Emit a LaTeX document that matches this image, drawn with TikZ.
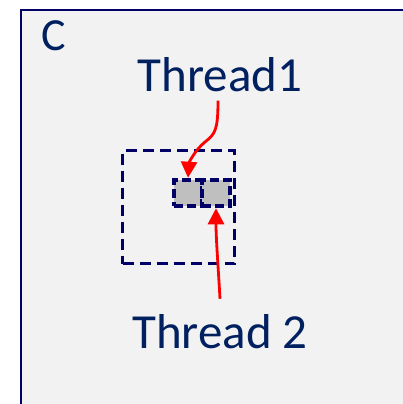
\documentclass[tikz,border=0pt]{standalone}
\usepackage{fontspec}
\setmainfont{Carlito}
\usetikzlibrary{arrows.meta,positioning}
\definecolor{textnavy}{HTML}{002060}
\definecolor{framenavy}{HTML}{000066}
\definecolor{panel}{HTML}{F2F2F2}
\definecolor{cellgray}{HTML}{BFBFBF}

\begin{document}
\begin{tikzpicture}[x=1pt,y=-1pt,
tlabel/.style={text=textnavy,font=\fontsize{49}{50}\selectfont,inner sep=0pt,anchor=base},
cell/.style={draw=framenavy,fill=cellgray,line width=4.5pt,dash pattern=on 9pt off 4pt,minimum width=28pt,minimum height=26pt,inner sep=0pt},
region/.style={draw=framenavy,line width=2.8pt,dash pattern=on 11pt off 6pt,minimum width=112pt,minimum height=113pt,inner sep=0pt},
link/.style={draw=red,line width=2.8pt,-{Triangle[length=16pt,width=16pt]}}]
\useasboundingbox (0,0) rectangle (403,404);
\clip (0,0) rectangle (403,404);
\fill[white] (0,0) rectangle (403,404);
% outer panel C
\draw[framenavy,fill=panel,line width=2.6pt] (21,10) rectangle (430,430);
\node[tlabel,font=\fontsize{46}{47}\selectfont] (cname) at (53.5,51) {C};
\node[tlabel] (thread1) at (220,91) {Thread1};
\node[tlabel] (thread2) at (220,348) {Thread 2};
% dashed region and its two cells
\node[region] (area) at (178.5,207) {};
\node[cell] (cell1) at (188,193) {};
\node[cell] (cell2) at (216,193) {};
% threads pointing at the cells
\draw[link] ([shift={(-2,9)}]thread1.south) .. controls +(0,30) and +(10,-8) .. (205,142)
  .. controls +(-10,8) and +(1,-15) .. (cell1.north);
\draw[link] ([shift={(0,-15)}]thread2.north) .. controls +(-2,-35) and +(0,30) .. (cell2.south);
\end{tikzpicture}
\end{document}
